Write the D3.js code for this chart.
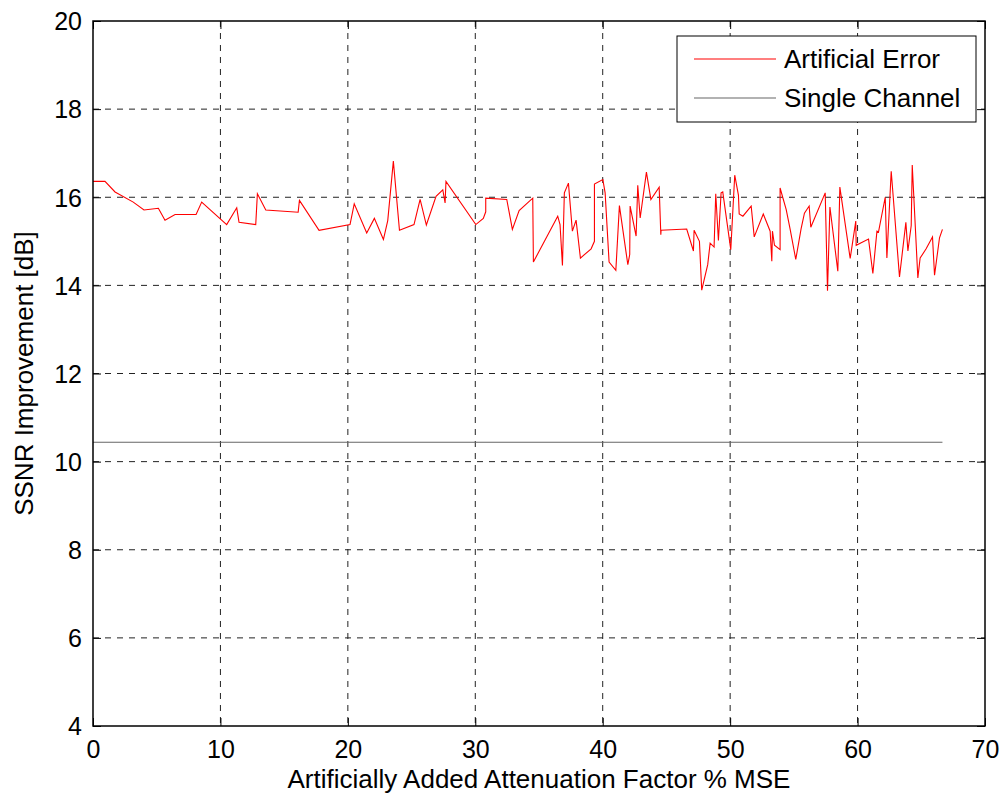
<!DOCTYPE html>
<html><head><meta charset="utf-8">
<script src="https://cdn.jsdelivr.net/npm/d3@7"></script>
<style>body{margin:0;background:#fff;} text{font-family:Arial,"Liberation Sans",sans-serif;fill:#000;}</style>
</head><body><svg id="c" width="1003" height="796"></svg>
<script>
const errX = [0,0.94,1.73,3.16,4.0,5.13,5.65,6.44,8.09,8.53,10.49,11.28,11.46,12.77,12.9,13.56,16.1,16.2,17.74,20.17,20.5,21.48,22.08,22.79,23.13,23.57,24.05,25.19,25.67,26.16,26.92,27.45,27.63,27.7,30.04,30.63,30.82,30.82,32.47,32.91,33.44,34.51,34.56,36.47,36.65,36.84,36.99,37.31,37.62,37.91,38.25,39.09,39.35,39.35,40.01,40.19,40.5,41.03,41.31,41.97,42.12,42.15,42.62,42.75,42.94,43.43,43.78,44.43,44.56,44.58,46.59,47.12,47.17,47.59,47.77,48.24,48.43,48.74,48.87,49.08,49.29,49.42,50.05,50.36,50.65,50.71,51.0,51.65,51.89,52.6,53.14,53.27,53.32,53.48,53.92,53.92,54.4,54.71,55.15,55.57,55.83,56.2,56.33,57.46,57.64,57.83,58.45,58.61,59.42,59.86,59.89,60.86,61.2,61.52,61.64,62.17,62.3,62.64,63.29,63.79,63.95,64.21,64.29,64.73,64.91,65.38,65.88,66.04,66.43,66.66];
const errY = [16.36,16.36,16.12,15.89,15.71,15.75,15.48,15.61,15.61,15.89,15.38,15.76,15.43,15.38,16.08,15.71,15.66,15.93,15.25,15.38,15.85,15.19,15.52,15.04,15.47,16.82,15.25,15.38,15.95,15.37,16.02,16.17,15.87,16.36,15.38,15.52,15.67,15.98,15.95,15.27,15.70,15.98,14.53,15.57,15.38,14.45,16.10,16.32,15.23,15.48,14.62,14.83,15.0,16.30,16.40,16.10,14.53,14.34,15.81,14.47,14.70,15.80,15.12,16.27,15.53,16.57,15.95,16.23,15.15,15.25,15.28,14.78,15.25,15.0,13.89,14.47,14.96,14.87,16.08,15.02,16.10,16.12,14.81,16.50,16.05,15.62,15.57,15.80,15.10,15.62,15.23,14.55,15.23,14.91,14.81,16.21,15.72,15.27,14.59,15.29,15.64,15.80,15.32,16.10,13.88,15.78,14.32,16.23,14.61,15.46,14.91,15.05,14.27,15.23,15.21,16.0,14.62,16.59,14.19,15.43,14.78,15.36,16.73,14.17,14.62,14.83,15.10,14.23,15.08,15.27];
const singleX = [0, 66.66];
const singleY = [10.44, 10.44];
const xTicks = [0,10,20,30,40,50,60,70];
const yTicks = [4,6,8,10,12,14,16,18,20];
const seriesNames = ["Artificial Error","Single Channel"];
const xLabel = "Artificially Added Attenuation Factor % MSE";
const yLabel = "SSNR Improvement [dB]";

const L=93,R=985,T=21,B=726;
const svg=d3.select("#c");
const x=d3.scaleLinear().domain([0,70]).range([L,R]);
const y=d3.scaleLinear().domain([4,20]).range([B,T]);

// grid
const g=svg.append("g");
g.selectAll("line.gx").data(xTicks.slice(1,-1)).join("line")
 .attr("x1",d=>x(d)).attr("x2",d=>x(d)).attr("y1",T).attr("y2",B)
 .attr("stroke","#222").attr("stroke-width",1).attr("stroke-dasharray","6,6");
g.selectAll("line.gy").data(yTicks.slice(1,-1)).join("line")
 .attr("y1",d=>y(d)).attr("y2",d=>y(d)).attr("x1",L).attr("x2",R)
 .attr("stroke","#222").attr("stroke-width",1).attr("stroke-dasharray","6,6");

// axes with inside ticks
const ax=d3.axisBottom(x).tickValues(xTicks).tickSize(-8).tickPadding(14).tickFormat(d3.format("d"));
const ay=d3.axisLeft(y).tickValues(yTicks).tickSize(-8).tickPadding(11).tickFormat(d3.format("d"));
const gx=svg.append("g").attr("transform",`translate(0,${B})`).call(ax);
const gy=svg.append("g").attr("transform",`translate(${L},0)`).call(ay);
svg.append("g").attr("transform",`translate(0,${T})`).call(d3.axisTop(x).tickValues(xTicks).tickSize(-8).tickFormat(""));
svg.append("g").attr("transform",`translate(${R},0)`).call(d3.axisRight(y).tickValues(yTicks).tickSize(-8).tickFormat(""));
svg.selectAll(".domain").remove();
svg.selectAll(".tick line").attr("stroke","#000").attr("stroke-width",1);
gx.selectAll("text").style("font-size","25px").style("font-family","Arial, 'Liberation Sans', sans-serif");
gy.selectAll("text").style("font-size","25px").style("font-family","Arial, 'Liberation Sans', sans-serif").attr("dy","0.35em");

// lines
const line=d3.line().x(d=>x(d[0])).y(d=>y(d[1]));
svg.append("path").datum(singleX.map((v,i)=>[v,singleY[i]])).attr("d",line)
 .attr("fill","none").attr("stroke","#666").attr("stroke-width",1.2);
svg.append("path").datum(errX.map((v,i)=>[v,errY[i]])).attr("d",line)
 .attr("fill","none").attr("stroke","#ff0000").attr("stroke-width",1.1).attr("stroke-linejoin","miter");

// box
svg.append("rect").attr("x",L).attr("y",T).attr("width",R-L).attr("height",B-T)
 .attr("fill","none").attr("stroke","#000").attr("stroke-width",1.5);

// labels
svg.append("text").attr("x",(L+R)/2).attr("y",788).attr("text-anchor","middle")
 .style("font-size","26px").text(xLabel);
svg.append("text").attr("transform",`translate(33,${(T+B)/2}) rotate(-90)`).attr("text-anchor","middle")
 .style("font-size","26px").text(yLabel);

// legend
const lg=svg.append("g");
lg.append("rect").attr("x",677).attr("y",36).attr("width",299).attr("height",86)
 .attr("fill","#fff").attr("stroke","#000").attr("stroke-width",1);
const colors=["#ff0000","#666"];
seriesNames.forEach((n,i)=>{
  const yy=59+i*39;
  lg.append("line").attr("x1",694).attr("x2",776).attr("y1",yy).attr("y2",yy)
    .attr("stroke",colors[i]).attr("stroke-width",1.2);
  lg.append("text").attr("x",784).attr("y",yy+9).style("font-size","26px").text(n);
});
</script></body></html>
